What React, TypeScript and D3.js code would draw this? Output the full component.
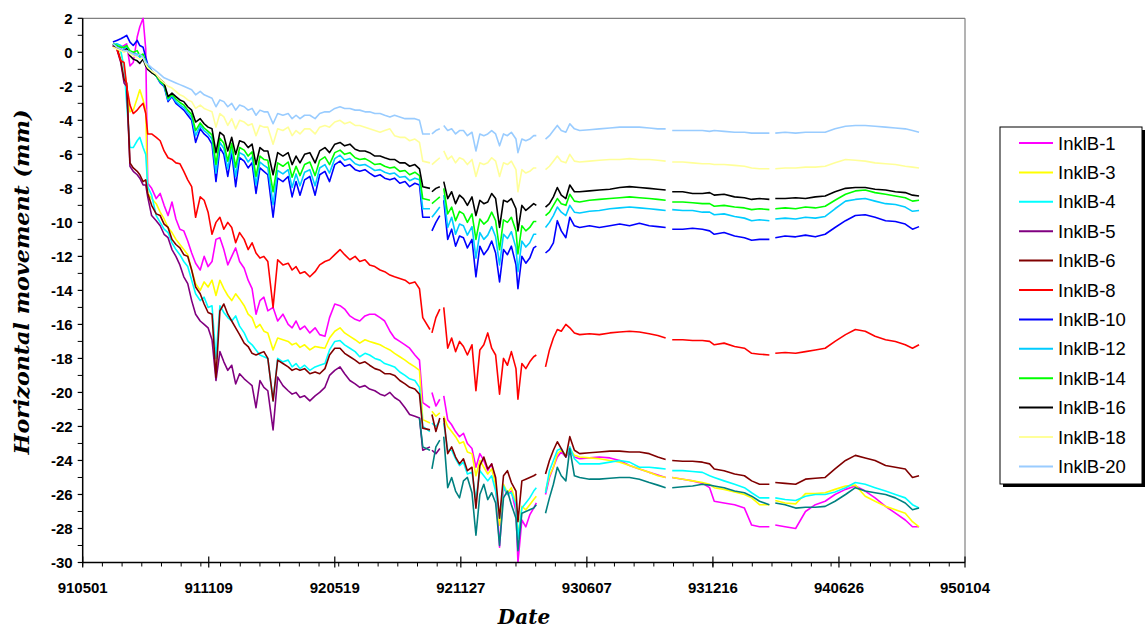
import React from "react";
import * as d3 from "d3";

const _ = null;

// Measurement days, counted from 1991-05-01 (gaps in the record are null in every series)
const dayOffsets: number[] = [
  46, 52, 58, 63, 67, 72, 77, 83, 87, 92, 96, 99, 105, 112, 118,
  124, 130, 136, 142, 148, 154, 160, 166, 172, 179, 185, 191, 197, 203, 209,
  215, 221, 227, 233, 239, 246, 252, 258, 264, 270, 276, 282, 290, 297, 305,
  313, 319, 325, 331, 338, 346, 354, 361, 369, 376, 384, 392, 399, 407, 415,
  422, 430, 437, 445, 453, 460, 468, 475, 483, 491, 498, 506, 513, 518, 529,
  530,
  532, 538, 544,
  547,
  550, 556, 562, 568, 574, 580, 586, 593, 599, 605, 611, 617, 623,
  629, 635, 641, 647, 653, 660, 663, 669, 675, 681, 687, 691,
  698,
  705, 711, 717, 723, 729, 736, 742, 749, 757, 772, 787, 803, 818, 833, 848, 863, 876, 888,
  892,
  898, 914, 929, 944, 955, 962, 977, 993, 1008, 1019, 1031, 1046,
  1050,
  1055, 1070, 1086, 1101, 1116, 1131, 1146, 1162, 1177, 1192, 1207, 1223, 1238, 1253, 1264, 1274,
];

const inkl1 = [
  0.4, 0.3, 0.3, 0.4, 0.5, -0.8, -0.6, 0.9, 1.5, 2.0, 0.2, -7.7, -8.0, -8.6, -8.3,
  -9.0, -9.6, -8.8, -9.8, -10.4, -10.5, -11.1, -11.8, -12.4, -12.8, -12.0, -12.6, -12.3, -11.0, -10.9,
  -11.6, -12.5, -12.0, -11.5, -12.3, -12.7, -13.4, -13.9, -15.4, -14.6, -14.4, -15.2, -15.0, -15.8, -15.4,
  -16.0, -16.2, -15.8, -16.3, -16.1, -16.5, -16.2, -16.6, -16.7, -15.6, -14.8, -14.9, -15.1, -15.5, -15.7,
  -15.8, -15.5, -15.4, -15.4, -15.6, -15.8, -16.4, -16.8, -17.0, -17.2, -17.4, -17.8, -18.1, -20.6, -20.9,
  _,
  -20.0, -20.8, -20.4,
  _,
  -20.2, -21.6, -21.9, -22.3, -22.6, -22.4, -23.0, -23.3, -24.4, -23.6, -24.0, -24.6, -24.2,
  -25.3, -29.1, -25.6, -26.0, -25.8, -27.0, -30.0, -27.5, -27.9, -27.2, -26.8, -26.5,
  _,
  -26.0, -25.0, -24.4, -23.8, -23.5, -23.8, -23.4, -23.8, -23.9, -23.85, -23.8, -23.85, -24.0, -24.3, -24.5, -24.7, -24.85, -25.0,
  _,
  -25.0, -25.1, -25.2, -25.35, -25.6, -26.4, -26.5, -26.6, -26.8, -27.8, -27.9, -27.9,
  _,
  -27.8, -27.9, -28.0, -27.0, -26.6, -26.4, -26.0, -25.7, -25.5, -25.8, -26.2, -26.7, -27.1, -27.5, -27.9, -27.9,
];

const inkl3 = [
  0.4, 0.3, 0.0, -0.9, -2.0, -3.5, -3.4, -2.7, -2.2, -2.8, -3.4, -8.3, -8.6, -8.9, -9.4,
  -9.8, -10.3, -10.6, -11.0, -11.3, -11.6, -11.9, -12.8, -13.6, -14.0, -13.5, -13.8, -13.4, -14.3, -13.4,
  -13.9, -14.3, -14.6, -14.2, -14.5, -14.9, -15.4, -15.6, -16.2, -16.0, -16.4, -16.5, -17.5, -16.8, -16.9,
  -17.0, -17.2, -17.1, -17.35, -17.2, -17.5, -17.3, -17.35, -17.4, -16.8, -16.4, -16.2, -16.5, -16.7, -16.9,
  -17.1, -16.9, -17.0, -17.1, -17.2, -17.35, -17.5, -17.7, -17.9, -18.1, -18.3, -18.5, -18.7, -21.6, -21.8,
  _,
  -21.1, -21.4, -21.2,
  _,
  -21.4, -22.0, -22.3, -22.6, -23.0, -22.9, -23.5, -23.6, -24.9, -24.0, -24.4, -24.8, -24.5,
  -25.4, -27.8, -25.4, -25.9, -25.6, -26.5, -28.5, -26.7, -26.9, -26.6, -26.3, -26.1,
  _,
  -25.8, -24.9, -24.4, -23.6, -23.4, -23.7, -23.3, -23.7, -23.8, -23.85, -23.9, -24.0, -24.1, -24.3, -24.5, -24.7, -24.9, -25.0,
  _,
  -25.0, -25.1, -25.2, -25.3, -25.4, -25.6, -25.7, -25.85, -26.0, -26.2, -26.6, -26.6,
  _,
  -26.35, -26.5, -26.55, -25.95, -25.95, -25.9, -25.7, -25.5, -25.45, -26.1, -26.4, -26.7, -26.9, -27.1, -27.6, -27.9,
];

const inkl4 = [
  0.5, 0.4, 0.1, -0.9, -3.0, -5.6, -5.6, -5.2, -5.0, -5.6, -6.0, -7.9, -8.4, -9.6, -10.0,
  -10.4, -10.6, -11.2, -11.6, -11.9, -12.3, -12.6, -13.4, -14.2, -14.6, -14.4, -15.0, -14.9, -18.0, -14.9,
  -15.3, -15.6, -15.8, -15.5, -16.1, -16.5, -17.0, -17.2, -17.5, -17.8, -17.9, -18.0, -20.5, -18.0, -18.2,
  -18.1, -18.5, -18.3, -18.6, -18.4, -18.7, -18.5, -18.4, -18.3, -17.5, -17.0, -16.95, -17.2, -17.4, -17.6,
  -17.9, -17.7, -17.8, -18.0, -18.1, -18.3, -18.4, -18.5, -18.8, -19.0, -19.2, -19.3, -19.7, -22.0, -22.3,
  _,
  -21.8, -22.0, -21.7,
  _,
  -21.8, -23.4, -23.4, -23.9, -24.3, -24.1, -24.8, -24.7, -26.3, -24.6, -24.9, -25.2, -24.9,
  -25.8, -27.4, -25.5, -26.0, -25.9, -26.6, -28.6, -26.8, -26.5, -26.2, -25.8, -25.6,
  _,
  -25.9, -24.6, -24.0, -23.4, -23.3, -23.8, -23.2, -23.9, -24.2, -24.2, -24.2, -24.1, -24.0, -24.1, -24.4, -24.4, -24.45, -24.5,
  _,
  -24.6, -24.6, -24.65, -24.7, -24.9, -25.0, -25.2, -25.4, -25.6, -25.9, -26.2, -26.2,
  _,
  -26.2, -26.3, -26.35, -26.1, -26.0, -26.0, -25.85, -25.6, -25.3, -25.4, -25.6, -25.8, -26.0, -26.2, -26.6, -26.8,
];

const inkl5 = [
  0.4, 0.2, -0.6, -1.8, -2.0, -6.7, -7.0, -7.2, -7.4, -7.8, -7.8, -8.5, -9.6, -9.9, -10.2,
  -10.7, -10.9, -11.6, -12.0, -12.5, -13.2, -13.6, -14.6, -15.4, -15.8, -16.0, -16.2, -16.9, -19.3, -17.6,
  -18.2, -18.7, -18.4, -19.5, -18.9, -19.2, -19.4, -19.6, -20.9, -19.3, -19.7, -19.9, -22.2, -19.1, -19.6,
  -19.9, -20.1, -20.0, -20.3, -20.2, -20.5, -20.2, -20.0, -19.7, -19.0, -18.7, -18.5, -18.9, -19.3, -19.5,
  -19.7, -19.6, -19.8, -19.9, -20.1, -20.2, -20.0, -20.3, -20.5, -20.9, -21.3, -21.4, -21.5, -23.4, -23.2,
  _,
  -23.4, -23.6, -23.3,
  _,
  _, _, _, _, _, _, _, _, _, _, _, _, _,
  _, _, _, _, _, _, _, _, _, _, _, _,
  _,
  _, _, _, _, _, _, _, _, _, _, _, _, _, _, _, _, _, _,
  _,
  _, _, _, _, _, _, _, _, _, _, _, _,
  _,
  _, _, _, _, _, _, _, _, _, _, _, _, _, _, _, _,
];

const inkl6 = [
  0.5, 0.3, -0.5, -1.6, -1.8, -6.5, -6.8, -7.0, -7.2, -7.6, -7.5, -8.3, -9.0, -9.5, -9.6,
  -10.1, -10.3, -11.0, -11.3, -11.5, -11.9, -12.0, -12.8, -13.8, -14.2, -14.8, -15.3, -15.4, -19.1, -15.2,
  -14.8, -15.4, -15.8, -16.2, -16.6, -17.1, -17.3, -17.7, -17.8, -17.7, -17.6, -18.0, -20.5, -18.1, -18.3,
  -18.5, -18.7, -18.6, -18.7, -18.6, -18.9, -18.8, -18.9, -18.6, -17.8, -17.4, -17.4, -17.7, -17.9, -18.1,
  -18.3, -18.2, -18.4, -18.6, -18.7, -18.9, -18.9, -19.0, -19.3, -19.5, -19.7, -19.8, -20.1, -22.1, -22.2,
  _,
  -21.3, -22.3, -21.5,
  _,
  -21.5, -23.6, -23.2, -23.8, -24.2, -23.9, -24.6, -24.4, -26.8, -24.3, -23.8, -24.5, -24.2,
  -25.0, -27.4, -24.9, -24.6, -25.3, -25.8, -27.6, -25.2, -25.1, -25.0, -24.9, -24.8,
  _,
  -24.8, -24.0, -23.4, -22.9, -23.3, -23.8, -22.6, -23.4, -23.6, -23.55, -23.5, -23.45, -23.45, -23.5, -23.5, -23.6, -23.8, -23.95,
  _,
  -24.0, -24.05, -24.05, -24.1, -24.2, -24.5, -24.6, -24.8, -24.9, -25.2, -25.4, -25.4,
  _,
  -25.3, -25.35, -25.4, -25.1, -25.05, -25.0, -24.5, -24.0, -23.7, -23.85, -24.0, -24.3, -24.4, -24.5, -25.0, -24.9,
];

const inkl8 = [
  0.4, 0.2, -0.5, -0.6, -2.0, -3.1, -3.6, -3.4, -3.2, -3.0, -3.6, -4.8, -4.8, -5.0, -5.2,
  -5.8, -6.2, -6.3, -6.5, -6.55, -7.0, -7.5, -7.9, -9.7, -8.5, -8.7, -9.4, -10.7, -10.0, -9.7,
  -10.4, -10.0, -10.3, -11.2, -10.6, -11.0, -11.6, -11.2, -11.8, -12.1, -12.0, -12.3, -15.0, -12.2, -12.5,
  -12.4, -12.8, -12.6, -13.0, -12.9, -13.2, -12.9, -12.5, -12.3, -12.2, -11.9, -11.6, -11.9, -12.2, -12.0,
  -12.3, -12.2, -12.5, -12.6, -12.8, -12.9, -13.1, -13.2, -13.3, -13.4, -13.6, -13.5, -13.9, -15.6, -16.3,
  _,
  -16.5, -15.6, -15.1,
  _,
  -15.0, -17.4, -16.8, -17.6, -17.0, -17.3, -17.8, -17.2, -19.9, -17.5, -17.2, -16.5, -17.4,
  -17.8, -20.1, -18.0, -18.4, -17.6, -18.6, -20.4, -18.3, -18.6, -18.2, -17.9, -17.8,
  _,
  -18.5, -17.5, -16.8, -16.3, -16.4, -16.0, -16.2, -16.5, -16.6, -16.55, -16.6, -16.5, -16.45, -16.4, -16.45, -16.55, -16.65, -16.8,
  _,
  -16.9, -16.9, -16.95, -16.95, -17.0, -17.2, -17.1, -17.3, -17.4, -17.7, -17.75, -17.8,
  _,
  -17.7, -17.65, -17.7, -17.6, -17.5, -17.4, -17.0, -16.6, -16.3, -16.4, -16.7, -16.9, -17.0, -17.2, -17.4, -17.2,
];

const inkl10 = [
  0.6, 0.7, 0.8, 0.9, 1.0, 0.6, 0.4, 0.7, 0.4, 0.3, -0.3, -0.7, -1.1, -1.4, -1.8,
  -2.0, -2.9, -2.6, -3.0, -3.2, -3.4, -3.7, -4.0, -5.3, -4.5, -4.8, -5.0, -5.4, -7.6, -5.6,
  -6.0, -7.3, -5.9, -7.9, -6.2, -6.4, -6.8, -6.5, -8.3, -6.8, -7.0, -7.2, -9.7, -7.4, -7.6,
  -7.3, -8.5, -7.6, -8.4, -7.5, -7.3, -8.4, -7.2, -7.0, -7.6, -6.6, -6.4, -6.7, -6.6, -6.9,
  -7.0, -6.9, -7.1, -7.3, -7.2, -7.4, -7.5, -7.4, -7.7, -7.6, -7.9, -7.7, -7.8, -9.7, -9.7,
  _,
  -10.5, -10.0, -9.6,
  _,
  -8.7, -11.0, -10.4, -11.4, -10.8, -10.9, -11.5, -11.0, -13.2, -11.4, -11.9, -11.6, -11.1,
  -11.8, -13.5, -11.6, -11.9, -11.4, -12.5, -13.9, -12.0, -12.4, -12.1, -11.5, -11.4,
  _,
  -11.8, -11.6, -11.2, -9.9, -10.5, -10.9, -9.7, -10.2, -10.3, -10.2, -10.3, -10.2, -10.1, -10.2, -10.05, -10.2, -10.25, -10.3,
  _,
  -10.4, -10.4, -10.35, -10.4, -10.5, -10.7, -10.6, -10.8, -10.9, -11.05, -11.0, -11.0,
  _,
  -10.9, -10.8, -10.85, -10.75, -10.85, -10.7, -10.3, -9.9, -9.6, -9.55, -9.7, -9.9, -9.95, -10.1, -10.4, -10.25,
];

const inkl12 = [
  0.45, 0.5, 0.4, 0.2, 0.3, 0.0, -0.1, -0.1, -0.3, -0.2, -0.5, -0.8, -1.1, -1.4, -1.75,
  -1.95, -2.8, -2.55, -2.9, -3.1, -3.25, -3.55, -3.8, -4.9, -4.3, -4.6, -4.8, -5.1, -7.1, -5.3,
  -5.65, -6.85, -5.6, -7.3, -5.9, -6.05, -6.45, -6.15, -7.8, -6.45, -6.65, -6.8, -8.95, -6.95, -7.15,
  -6.9, -7.95, -7.15, -7.85, -7.05, -6.9, -7.85, -6.8, -6.6, -7.1, -6.25, -6.05, -6.35, -6.25, -6.55,
  -6.65, -6.6, -6.75, -6.95, -6.9, -7.05, -7.15, -7.1, -7.35, -7.3, -7.55, -7.4, -7.5, -9.2, -9.2,
  _,
  -9.7, -9.4, -9.1,
  _,
  -8.4, -10.3, -9.7, -10.7, -10.1, -10.2, -10.75, -10.25, -12.1, -10.6, -11.0, -10.75, -10.25,
  -10.85, -12.5, -10.7, -10.95, -10.55, -11.5, -12.9, -11.1, -11.45, -11.2, -10.7, -10.7,
  _,
  -10.3, -10.0, -9.6, -9.1, -9.4, -9.6, -9.0, -9.4, -9.45, -9.35, -9.3, -9.2, -9.15, -9.1, -9.15, -9.2, -9.25, -9.3,
  _,
  -9.25, -9.3, -9.3, -9.4, -9.4, -9.55, -9.5, -9.65, -9.75, -9.9, -9.85, -9.9,
  _,
  -9.8, -9.75, -9.8, -9.7, -9.75, -9.65, -9.2, -8.75, -8.65, -8.6, -8.75, -8.9, -8.95, -9.1, -9.35, -9.3,
];

const inkl14 = [
  0.5, 0.4, 0.3, 0.3, 0.4, 0.1, 0.0, 0.1, -0.2, -0.1, -0.6, -0.9, -1.15, -1.4, -1.7,
  -1.9, -2.7, -2.5, -2.75, -2.95, -3.1, -3.4, -3.65, -4.6, -4.15, -4.45, -4.65, -4.85, -6.6, -5.05,
  -5.35, -6.4, -5.35, -6.75, -5.6, -5.75, -6.1, -5.85, -7.3, -6.1, -6.3, -6.35, -8.2, -6.5, -6.7,
  -6.45, -7.35, -6.7, -7.25, -6.6, -6.45, -7.25, -6.35, -6.15, -6.6, -5.9, -5.75, -6.0, -5.9, -6.2,
  -6.3, -6.25, -6.4, -6.6, -6.55, -6.7, -6.8, -6.75, -7.0, -6.95, -7.2, -7.05, -7.25, -8.6, -8.7,
  _,
  -8.9, -8.7, -8.5,
  _,
  -8.0, -9.5, -9.1, -9.9, -9.35, -9.5, -10.0, -9.5, -11.0, -9.8, -10.1, -9.9, -9.4,
  -9.9, -11.6, -9.85, -10.0, -9.7, -10.5, -11.85, -10.2, -10.5, -10.3, -9.95, -9.95,
  _,
  -9.6, -9.4, -9.0, -8.6, -8.9, -9.0, -8.35, -8.75, -8.8, -8.7, -8.65, -8.6, -8.55, -8.5, -8.55, -8.6, -8.65, -8.7,
  _,
  -8.8, -8.8, -8.85, -8.9, -8.9, -9.05, -9.0, -9.1, -9.15, -9.25, -9.2, -9.25,
  _,
  -9.2, -9.15, -9.2, -9.1, -9.15, -9.05, -8.7, -8.35, -8.15, -8.1, -8.25, -8.35, -8.45, -8.55, -8.75, -8.7,
];

const inkl16 = [
  0.4, 0.3, 0.2, 0.1, 0.2, -0.2, -0.4, -0.5, -0.65, -0.4, -0.8, -1.0, -1.2, -1.35, -1.6,
  -1.8, -2.6, -2.4, -2.6, -2.8, -2.9, -3.2, -3.4, -4.1, -3.9, -4.2, -4.4, -4.5, -5.9, -4.7,
  -4.9, -5.8, -5.0, -6.0, -5.2, -5.3, -5.6, -5.4, -6.6, -5.6, -5.8, -5.8, -7.2, -5.9, -6.1,
  -5.9, -6.6, -6.1, -6.5, -6.0, -5.9, -6.5, -5.8, -5.6, -5.9, -5.4, -5.3, -5.5, -5.4, -5.7,
  -5.8, -5.8, -5.9, -6.1, -6.1, -6.2, -6.3, -6.3, -6.5, -6.5, -6.7, -6.6, -6.85, -7.9, -8.0,
  _,
  -8.2, -8.0, -7.9,
  _,
  -7.6, -8.6, -8.2, -8.9, -8.4, -8.6, -9.0, -8.5, -9.6, -8.7, -8.9, -8.8, -8.3,
  -8.6, -10.3, -8.7, -8.8, -8.6, -9.2, -10.5, -9.0, -9.3, -9.1, -8.9, -9.0,
  _,
  -9.1, -8.9, -8.5, -7.95, -8.4, -8.6, -7.8, -8.2, -8.2, -8.15, -8.1, -8.05, -7.95, -7.9, -7.95, -8.0, -8.05, -8.1,
  _,
  -8.2, -8.2, -8.3, -8.3, -8.25, -8.4, -8.35, -8.5, -8.55, -8.65, -8.6, -8.65,
  _,
  -8.6, -8.6, -8.55, -8.6, -8.5, -8.45, -8.2, -8.0, -7.95, -7.95, -8.05, -8.1, -8.2, -8.25, -8.4, -8.45,
];

const inkl18 = [
  0.3, 0.2, 0.1, 0.0, 0.1, -0.1, -0.2, -0.3, -0.4, -0.3, -0.7, -0.9, -1.1, -1.3, -1.6,
  -1.8, -2.0, -2.1, -2.3, -2.5, -2.6, -2.8, -2.9, -3.3, -3.1, -3.3, -3.4, -3.5, -4.4, -3.6,
  -3.8, -4.3, -3.9, -4.5, -4.0, -4.1, -4.3, -4.2, -4.9, -4.3, -4.4, -4.4, -5.4, -4.5, -4.6,
  -4.4, -4.9, -4.6, -4.8, -4.5, -4.5, -4.8, -4.4, -4.3, -4.4, -4.1, -4.0, -4.2, -4.1, -4.3,
  -4.3, -4.4, -4.5, -4.6, -4.7, -4.6, -4.5, -4.9, -5.0, -5.0, -5.2, -5.1, -5.3, -6.4, -6.5,
  _,
  -6.6, -6.4, -6.2,
  _,
  -5.8, -6.3, -6.1, -6.5, -6.2, -6.3, -6.6, -6.3, -7.3, -6.5, -6.6, -6.5, -6.2,
  -6.4, -7.3, -6.5, -6.6, -6.4, -6.9, -8.2, -6.9, -7.1, -7.0, -6.8, -6.8,
  _,
  -6.9, -6.7, -6.4, -6.1, -6.4, -6.5, -6.0, -6.4, -6.45, -6.4, -6.35, -6.3, -6.3, -6.25, -6.3, -6.3, -6.35, -6.4,
  _,
  -6.45, -6.45, -6.5, -6.55, -6.55, -6.6, -6.6, -6.65, -6.7, -6.8, -6.85, -6.85,
  _,
  -6.85, -6.8, -6.8, -6.75, -6.75, -6.7, -6.5, -6.3, -6.35, -6.4, -6.5, -6.55, -6.6, -6.7, -6.75, -6.8,
];

const inkl20 = [
  0.5, 0.3, 0.2, 0.1, 0.1, 0.0, -0.1, -0.2, -0.1, -0.3, -0.6, -0.7, -0.9, -1.1, -1.3,
  -1.5, -1.6, -1.7, -1.8, -1.9, -2.0, -2.1, -2.2, -2.5, -2.3, -2.5, -2.6, -2.7, -3.2, -2.8,
  -2.9, -3.2, -3.0, -3.4, -3.1, -3.2, -3.4, -3.3, -3.7, -3.4, -3.5, -3.5, -4.2, -3.6, -3.7,
  -3.6, -3.9, -3.7, -3.9, -3.7, -3.7, -3.9, -3.6, -3.5, -3.5, -3.3, -3.2, -3.3, -3.3, -3.4,
  -3.4, -3.5, -3.5, -3.6, -3.6, -3.7, -3.8, -3.7, -3.8, -3.9, -3.9, -3.9, -4.0, -4.8, -4.8,
  _,
  -4.8, -4.6, -4.5,
  _,
  -4.3, -4.6, -4.5, -4.8, -4.6, -4.6, -4.9, -4.7, -5.8, -4.8, -4.9, -4.8, -4.6,
  -4.8, -5.5, -4.8, -4.9, -4.7, -5.1, -5.9, -5.1, -5.2, -5.1, -4.9, -4.9,
  _,
  -5.1, -4.9, -4.6, -4.3, -4.6, -4.7, -4.2, -4.5, -4.6, -4.55, -4.5, -4.45, -4.4, -4.4, -4.4, -4.45, -4.5, -4.5,
  _,
  -4.6, -4.6, -4.6, -4.6, -4.65, -4.6, -4.65, -4.7, -4.7, -4.75, -4.75, -4.75,
  _,
  -4.75, -4.7, -4.75, -4.7, -4.7, -4.7, -4.5, -4.35, -4.3, -4.3, -4.35, -4.4, -4.45, -4.5, -4.6, -4.7,
];

// Teal trace drawn in the chart but not listed in its legend
const inklTeal = [
  _, _, _, _, _, _, _, _, _, _, _, _,
  _, _, _, _, _, _, _, _, _, _, _, _,
  _, _, _, _, _, _, _, _, _, _, _, _,
  _, _, _, _, _, _, _, _, _, _, _, _,
  _, _, _, _, _, _, _, _, _, _, _, _,
  _, _, _, _, _, _, _, _, _, _, _, _,
  -21.5, -23.2, -23.4,
  _,
  -24.5, -23.2, -22.8,
  _,
  -22.6, -25.6, -25.0, -25.8, -26.2, -25.2, -25.0, -25.9, -28.4, -26.0, -25.4, -26.3, -25.9,
  -26.5, -29.0, -26.2, -25.8, -26.6, -27.4, -29.3, -27.1, -27.0, -26.9, -26.8, -26.6,
  _,
  -27.1, -26.2, -25.4, -24.4, -24.9, -25.2, -23.3, -24.9, -25.0, -25.1, -25.1, -25.05, -25.0, -25.0, -25.1, -25.3, -25.45, -25.6,
  _,
  -25.6, -25.55, -25.5, -25.4, -25.45, -25.5, -25.6, -25.8, -25.9, -26.1, -26.4, -26.6,
  _,
  -26.5, -26.6, -26.8, -26.75, -26.75, -26.7, -26.4, -26.0, -25.6, -25.8, -25.9, -26.0, -26.2, -26.5, -26.9, -26.8,
];

const seriesNames = [
  "InklB-1", "InklB-3", "InklB-4", "InklB-5", "InklB-6", "InklB-8",
  "InklB-10", "InklB-12", "InklB-14", "InklB-16", "InklB-18", "InklB-20",
];
const seriesValues = [inkl1, inkl3, inkl4, inkl5, inkl6, inkl8, inkl10, inkl12, inkl14, inkl16, inkl18, inkl20];
const seriesColors = [
  "#FF00FF", "#FFFF00", "#00FFFF", "#800080", "#800000", "#FF0000",
  "#0000FF", "#00CCFF", "#00FF00", "#000000", "#FFFF99", "#99CCFF",
];
const tealColor = "#008080";

const yTickValues = [-30, -28, -26, -24, -22, -20, -18, -16, -14, -12, -10, -8, -6, -4, -2, 0, 2];
const xTickDays = [0, 192, 384, 576, 768, 960, 1152, 1344];

const W = 1145;
const H = 631;
const PL = 82.7;
const PR = 965;
const PT = 18.3;
const PB = 562.5;

const startDate = new Date(1991, 4, 1);
const toDate = (d: number) => d3.timeDay.offset(startDate, d);

export default function App() {
  const x = d3.scaleTime().domain([startDate, toDate(1344)]).range([PL, PR]);
  const y = d3.scaleLinear().domain([-30, 2]).range([PB, PT]);
  const fmt = d3.timeFormat("%y%m%d");

  const line = d3
    .line<[number, number | null]>()
    .defined((d) => d[1] !== null && d[1] !== undefined)
    .x((d) => x(toDate(d[0])))
    .y((d) => y(d[1] as number));

  const pathFor = (vals: (number | null)[]) =>
    line(dayOffsets.map((d, i) => [d, vals[i] ?? null] as [number, number | null])) || "";

  const yMinor = d3.range(-29, 2, 2);
  const xMinor = d3.range(0, 1345, 30);

  const tickFont = "'Liberation Sans', Arial, sans-serif";
  const legendTop = 143;
  const legendStep = 29.4;

  return (
    <div style={{ position: "absolute", left: 0, top: 0 }}>
      <svg width={W} height={H} viewBox={`0 0 ${W} ${H}`} style={{ display: "block", background: "#fff" }}>
        <defs>
          <clipPath id="plotclip">
            <rect x={PL} y={PT - 1} width={PR - PL} height={PB - PT + 2} />
          </clipPath>
        </defs>
        <rect x={0} y={0} width={W} height={H} fill="#fff" />
        {/* plot frame */}
        <line x1={PL} x2={PR} y1={PT} y2={PT} stroke="#808080" strokeWidth={1.2} />
        <line x1={PR} x2={PR} y1={PT} y2={PB} stroke="#808080" strokeWidth={1.2} />

        {/* series */}
        <g clipPath="url(#plotclip)" fill="none" strokeWidth={1.6} strokeLinejoin="round">
          {seriesValues.map((vals, i) => (
            <path key={seriesNames[i]} d={pathFor(vals)} stroke={seriesColors[i]} />
          ))}
          <path d={pathFor(inklTeal)} stroke={tealColor} />
        </g>

        {/* y axis */}
        <line x1={PL} x2={PL} y1={PT} y2={PB} stroke="#000" strokeWidth={1.5} />
        {yTickValues.map((v) => (
          <g key={"y" + v}>
            <line x1={PL - 5} x2={PL} y1={y(v)} y2={y(v)} stroke="#000" strokeWidth={1.2} />
            <text
              x={PL - 10}
              y={y(v)}
              dy="0.36em"
              textAnchor="end"
              fontFamily={tickFont}
              fontWeight="bold"
              fontSize={15}
              fill="#000"
            >
              {v}
            </text>
          </g>
        ))}
        {yMinor.map((v) => (
          <line key={"ym" + v} x1={PL - 5} x2={PL} y1={y(v)} y2={y(v)} stroke="#000" strokeWidth={1} />
        ))}

        {/* x axis */}
        <line x1={PL} x2={PR} y1={PB} y2={PB} stroke="#000" strokeWidth={1.5} />
        {xMinor.map((d) => (
          <line key={"xm" + d} x1={x(toDate(d))} x2={x(toDate(d))} y1={PB} y2={PB + 4} stroke="#000" strokeWidth={1} />
        ))}
        {xTickDays.map((d) => (
          <g key={"x" + d}>
            <line x1={x(toDate(d))} x2={x(toDate(d))} y1={PB - 6} y2={PB + 5} stroke="#000" strokeWidth={1.2} />
            <text
              x={x(toDate(d))}
              y={593}
              textAnchor="middle"
              fontFamily={tickFont}
              fontWeight="bold"
              fontSize={15}
              fill="#000"
            >
              {fmt(toDate(d))}
            </text>
          </g>
        ))}

        {/* axis titles */}
        <text
          transform={`translate(29, 282) rotate(-90)`}
          textAnchor="middle"
          fontFamily="'DejaVu Serif', serif"
          fontStyle="italic"
          fontWeight="bold"
          fontSize={20}
          textLength={345}
          lengthAdjust="spacingAndGlyphs"
          fill="#000"
        >
          Horizontal movement (mm)
        </text>
        <text
          x={524}
          y={624}
          textAnchor="middle"
          fontFamily="'DejaVu Serif', serif"
          fontStyle="italic"
          fontWeight="bold"
          fontSize={20}
          fill="#000"
        >
          Date
        </text>

        {/* legend */}
        <rect x={1003} y={130} width={142} height={357} fill="#000" />
        <rect x={1000} y={127} width={142} height={357} fill="#fff" stroke="#000" strokeWidth={1} />
        {seriesNames.map((name, i) => {
          const ly = legendTop + i * legendStep;
          return (
            <g key={"lg" + name}>
              <line x1={1019} x2={1053} y1={ly} y2={ly} stroke={seriesColors[i]} strokeWidth={2} />
              <text x={1058} y={ly} dy="0.36em" fontFamily={tickFont} fontSize={18.5} fill="#000">
                {name}
              </text>
            </g>
          );
        })}
      </svg>
    </div>
  );
}
